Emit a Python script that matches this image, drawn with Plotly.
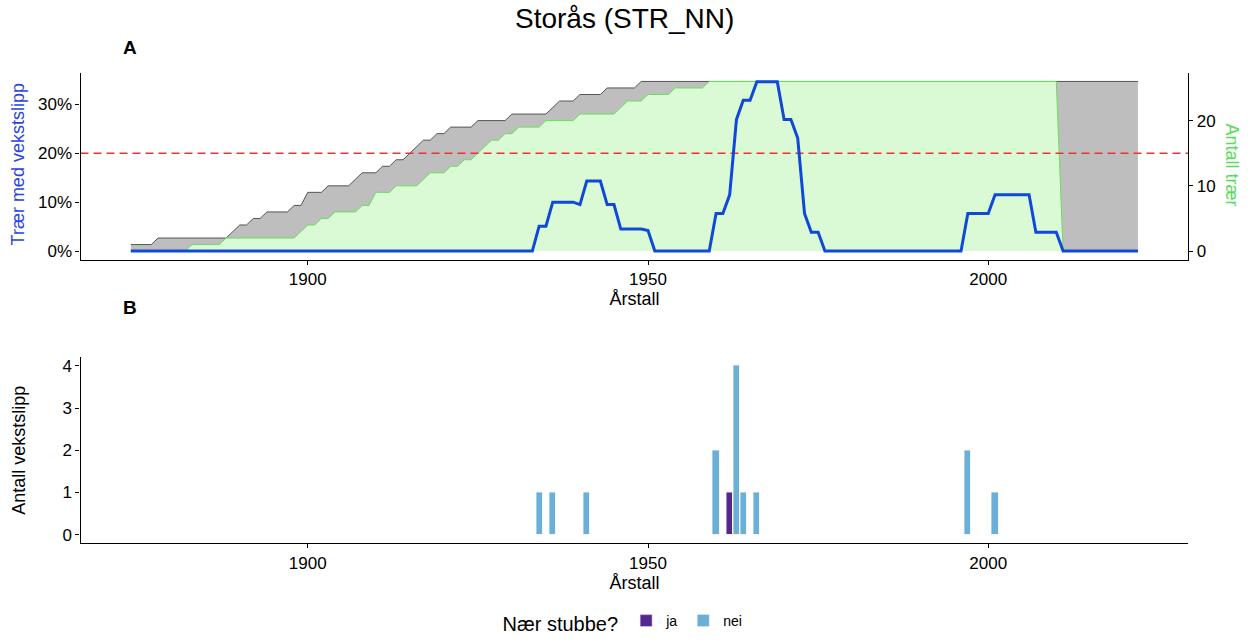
import plotly.graph_objects as go

# ---------------- data ----------------
# Panel A: number of trees (vertices of the yearly series)
total_years = [1874, 1877, 1878, 1888, 1890, 1891, 1892, 1893, 1894, 1897, 1898, 1899, 1900,
               1902, 1903, 1906, 1908, 1910, 1911, 1912, 1913, 1914, 1917, 1918, 1919, 1920,
               1921, 1924, 1925, 1929, 1930, 1935, 1937, 1939, 1940, 1943, 1944, 1948, 1949, 2022]
total_trees = [1, 1, 2, 2, 4, 4, 5, 5, 6, 6, 7, 7, 9,
               9, 10, 10, 12, 12, 13, 13, 14, 14, 17, 17, 18, 18,
               19, 19, 20, 20, 21, 21, 23, 23, 24, 24, 25, 25, 26, 26]

green_years = [1874, 1882, 1883, 1887, 1888, 1898, 1900, 1901, 1902, 1903, 1904, 1907, 1908,
               1909, 1910, 1912, 1913, 1916, 1918, 1920, 1921, 1922, 1923, 1924, 1926, 1927,
               1928, 1929, 1930, 1931, 1934, 1935, 1939, 1940, 1945, 1947, 1949, 1950, 1953,
               1954, 1958, 1959, 2010, 2011, 2022]
green_trees = [0, 0, 1, 1, 2, 2, 4, 4, 5, 5, 6, 6, 7,
               7, 9, 9, 10, 10, 12, 12, 13, 13, 14, 14, 16, 17,
               17, 18, 18, 19, 19, 20, 20, 21, 21, 23, 23, 24, 24,
               25, 25, 26, 26, 0, 0]

# Panel A: percentage of trees with growth release
release_years = [1874, 1933, 1934, 1935, 1936, 1939, 1940, 1941, 1943, 1944, 1945, 1946, 1949,
                 1950, 1951, 1959, 1960, 1961, 1962, 1963, 1964, 1965, 1966, 1969, 1970, 1971,
                 1972, 1973, 1974, 1975, 1976, 1996, 1997, 2000, 2001, 2006, 2007, 2010, 2011, 2022]
release_pct = [0, 0, 5.1, 5.1, 10.0, 10.0, 9.5, 14.3, 14.3, 9.5, 9.5, 4.5, 4.5,
               4.2, 0, 0, 7.7, 7.7, 11.5, 26.9, 30.8, 30.8, 34.6, 34.6, 26.9, 26.9,
               23.1, 7.7, 3.85, 3.85, 0, 0, 7.7, 7.7, 11.5, 11.5, 3.85, 3.85, 0, 0]

threshold_pct = 20
trees_per_pct = 0.75  # secondary axis: 20 % <-> 15 trees

# Panel B: number of growth releases per year
ja_years = [1962]
ja_counts = [1]
nei_years = [1934, 1936, 1941, 1960, 1963, 1964, 1966, 1997, 2001]
nei_counts = [1, 1, 1, 2, 4, 1, 1, 2, 1]

x_ticks = [1900, 1950, 2000]
pct_ticks = [0, 10, 20, 30]
pct_labels = ["0%", "10%", "20%", "30%"]
tree_ticks = [0, 10, 20]
count_ticks = [0, 1, 2, 3, 4]

# ---------------- figure ----------------
FONT = "Liberation Sans, Arial, sans-serif"
W, H = 1248, 641

xmin, xmax = min(total_years), max(total_years)
xpad = 0.05 * (xmax - xmin)
xrange = [xmin - xpad, xmax + xpad]

pmax = max(release_pct)
prange = [-0.05 * pmax, 1.05 * pmax]
trange = [v * trees_per_pct for v in prange]
cmax = max(nei_counts + ja_counts)
crange = [-0.05 * cmax, 1.05 * cmax]

def px_x(p):
    return p / W

def px_y(p):
    return 1 - p / H

xdom = [px_x(80.5), px_x(1188.3)]
ydomA = [px_y(262), px_y(74)]
ydomB = [px_y(548.3), px_y(360.7)]

fig = go.Figure()

# areas on the base (tree-count) axis
fig.add_trace(go.Scatter(x=total_years, y=total_trees, xaxis="x", yaxis="y",
                         mode="lines", fill="tozeroy", fillcolor="#bebebe",
                         line=dict(color="#555555", width=1), showlegend=False,
                         hoverinfo="skip"))
fig.add_trace(go.Scatter(x=green_years, y=green_trees, xaxis="x", yaxis="y",
                         mode="lines", fill="tozeroy", fillcolor="#dafad6",
                         line=dict(color="#6cdc5e", width=1), showlegend=False,
                         hoverinfo="skip"))
# percentage lines on the overlaying axis (drawn on top)
fig.add_trace(go.Scatter(x=xrange, y=[threshold_pct, threshold_pct], xaxis="x", yaxis="y2",
                         mode="lines", line=dict(color="#e8352f", width=1.6, dash="8px,5px"),
                         showlegend=False, hoverinfo="skip"))
fig.add_trace(go.Scatter(x=release_years, y=release_pct, xaxis="x", yaxis="y2",
                         mode="lines", line=dict(color="#1048d8", width=3),
                         showlegend=False))

fig.add_trace(go.Bar(x=ja_years, y=ja_counts, name="ja", marker_color="#54278f",
                     width=0.9, xaxis="x2", yaxis="y3"))
fig.add_trace(go.Bar(x=nei_years, y=nei_counts, name="nei", marker_color="#6baed6",
                     width=0.9, xaxis="x2", yaxis="y3"))

axis_common = dict(showline=True, linecolor="black", linewidth=1.1, ticks="outside",
                   ticklen=4, tickcolor="black", tickwidth=1.1, showgrid=False,
                   zeroline=False, tickfont=dict(family=FONT, size=17, color="black"),
                   automargin=False)

fig.update_layout(
    width=W, height=H, margin=dict(l=0, r=0, t=0, b=0),
    plot_bgcolor="white", paper_bgcolor="white",
    font=dict(family=FONT, color="black"),
    barmode="stack",
    xaxis=dict(domain=xdom, range=xrange, tickvals=x_ticks, anchor="y",
               title=dict(text="Årstall", font=dict(size=18), standoff=2), **axis_common),
    yaxis=dict(domain=ydomA, range=trange, tickvals=tree_ticks, side="right", anchor="x",
               **axis_common),
    yaxis2=dict(range=prange, tickvals=pct_ticks, ticktext=pct_labels, overlaying="y",
                side="left", anchor="x", **axis_common),
    xaxis2=dict(domain=xdom, range=xrange, tickvals=x_ticks, anchor="y3",
                title=dict(text="Årstall", font=dict(size=18), standoff=2), **axis_common),
    yaxis3=dict(domain=ydomB, range=crange, tickvals=count_ticks, anchor="x2",
                title=dict(text="Antall vekstslipp", font=dict(size=18), standoff=32),
                **axis_common),
    legend=dict(orientation="h", x=0.5, xanchor="center", y=px_y(629), yanchor="middle",
                title=dict(text="Nær stubbe?", font=dict(size=20, family=FONT)),
                font=dict(size=14, family=FONT), traceorder="normal"),
    bargap=0,
)

fig.add_annotation(text="Storås (STR_NN)", x=px_x(624), y=px_y(19), xref="paper", yref="paper",
                   showarrow=False, font=dict(size=28, family=FONT), yanchor="middle")
fig.add_annotation(text="<b>A</b>", x=px_x(121), y=px_y(48), xref="paper", yref="paper",
                   showarrow=False, font=dict(size=19, family=FONT), yanchor="middle")
fig.add_annotation(text="<b>B</b>", x=px_x(121), y=px_y(310), xref="paper", yref="paper",
                   showarrow=False, font=dict(size=19, family=FONT), yanchor="middle")
fig.add_annotation(text="Trær med vekstslipp", x=px_x(18), y=px_y(166), xref="paper",
                   yref="paper", showarrow=False, textangle=-90,
                   font=dict(size=18, family=FONT, color="#2b45e0"),
                   xanchor="center", yanchor="middle")
fig.add_annotation(text="Antall trær", x=px_x(1232), y=px_y(166), xref="paper", yref="paper",
                   showarrow=False, textangle=90, font=dict(size=18, family=FONT, color="#55dd55"),
                   xanchor="center", yanchor="middle")

fig.write_html("out.html", config={"displayModeBar": False},
               post_script="document.body.style.margin='0px';")
